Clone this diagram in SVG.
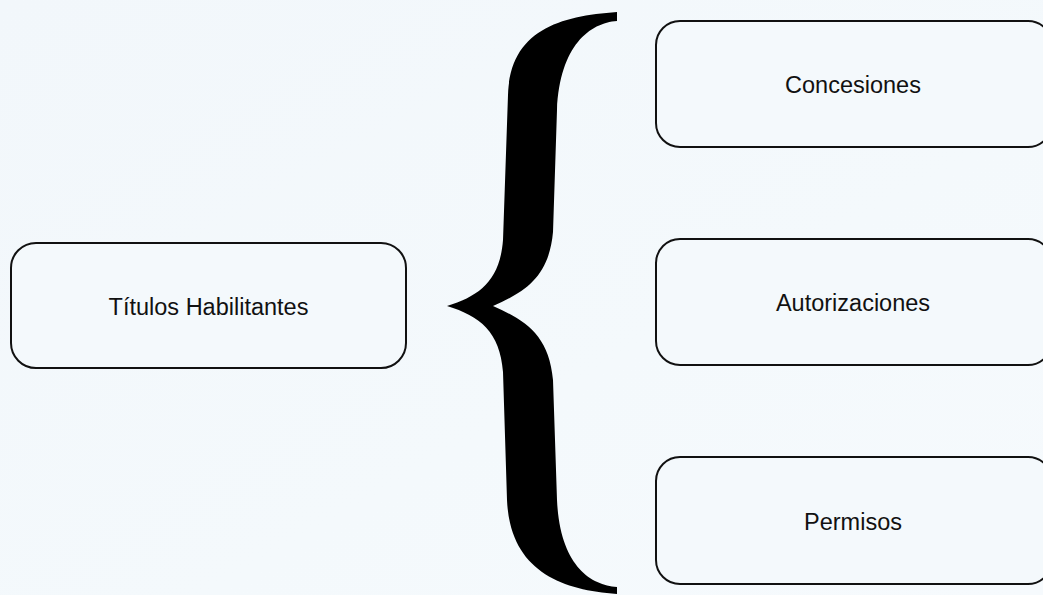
<svg xmlns="http://www.w3.org/2000/svg" width="1043" height="595" viewBox="0 0 1043 595">
  <defs>
    <style>
      .box { fill: #f4f9fc; stroke: #111111; stroke-width: 2; }
      .lbl { font-family: "Liberation Sans", Arial, sans-serif; font-size: 23.5px; fill: #111111; text-anchor: middle; }
    </style>
    <linearGradient id="bg" x1="0" y1="0" x2="1" y2="1">
      <stop offset="0" stop-color="#f2f7fb"/>
      <stop offset="0.6" stop-color="#f4f9fc"/>
      <stop offset="1" stop-color="#f6fafd"/>
    </linearGradient>
  </defs>
  <rect x="0" y="0" width="1043" height="595" fill="url(#bg)"/>

  <g id="connectors">
    <path id="brace" fill="#000000" d="M617,12 C560,16 510,30 508,95 L503,240 C500,280 480,296 447,306 C480,316 500,332 503,372 L507,500 C510,570 560,590 617,594 L617,587 C590,585 560,565 557,500 L553,380 C549,335 525,320 493,306 C525,292 549,277 553,232 L557,110 C560,45 590,23 617,21 Z"/>
  </g>

  <g id="node-titulos">
    <rect class="box" x="11" y="243" width="395" height="125" rx="25" ry="25"/>
    <text class="lbl" x="208.5" y="315">Títulos Habilitantes</text>
  </g>
  <g id="node-concesiones">
    <rect class="box" x="656" y="21" width="396" height="126" rx="24" ry="24"/>
    <text class="lbl" x="853" y="93">Concesiones</text>
  </g>
  <g id="node-autorizaciones">
    <rect class="box" x="656" y="239" width="396" height="126" rx="24" ry="24"/>
    <text class="lbl" x="853" y="311">Autorizaciones</text>
  </g>
  <g id="node-permisos">
    <rect class="box" x="656" y="457" width="396" height="127" rx="24" ry="24"/>
    <text class="lbl" x="853" y="530">Permisos</text>
  </g>
</svg>
